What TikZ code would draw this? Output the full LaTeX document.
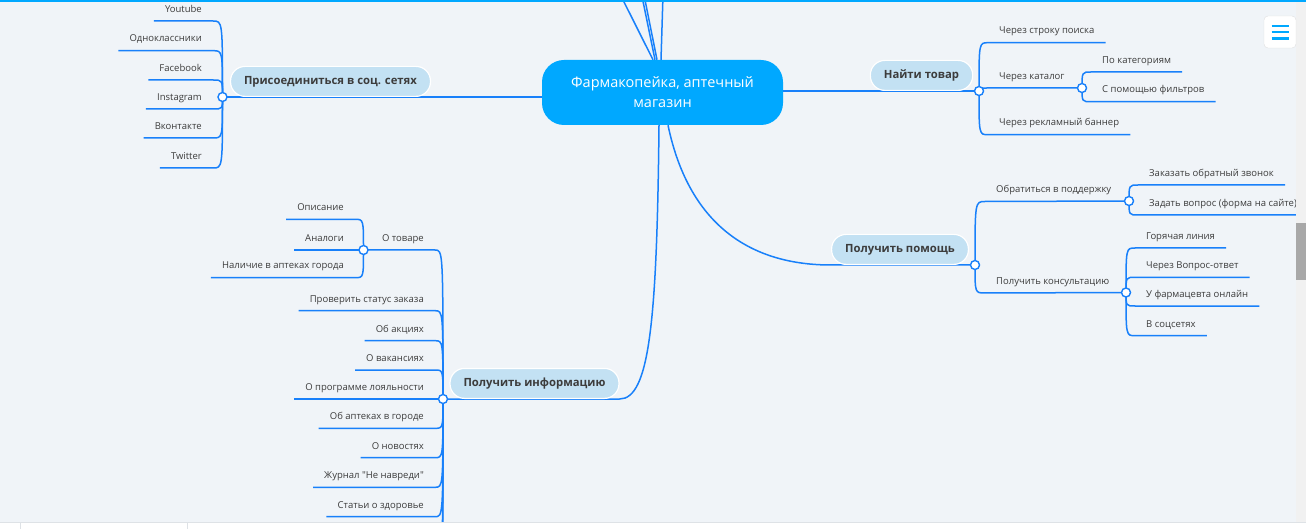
\documentclass[tikz,border=0pt]{standalone}
\usepackage{fontspec}
\setmainfont{Open Sans}[Ligatures=TeXOff]
\usetikzlibrary{backgrounds}
\definecolor{paper}{RGB}{240,244,248}
\definecolor{linkblue}{RGB}{24,128,250}
\definecolor{hubblue}{RGB}{0,168,255}
\definecolor{pillblue}{RGB}{195,225,243}
\definecolor{inkgray}{RGB}{60,60,60}
\definecolor{trackgray}{RGB}{241,241,241}
\definecolor{thumbgray}{RGB}{168,168,168}
\definecolor{bargray}{RGB}{222,226,230}
\tikzset{
    % Connectors
    branch/.style={draw=linkblue,line width=1.5pt},
    elbow/.style={to path={.. controls (\tikztostart |- \tikztotarget) and (\tikztostart |- \tikztotarget) .. (\tikztotarget)}},
    %
    % Nodes
    hub box/.style={rectangle,rounded corners=22pt,fill=hubblue,text=white,minimum width=241pt,minimum height=65pt,align=center,font=\fontsize{14.5}{20}\selectfont},
    topic/.style={rectangle,rounded corners=14.5pt,fill=pillblue,draw=white,line width=1.2pt,minimum height=30pt,inner xsep=13.5pt,anchor=south,text=inkgray,font=\bfseries\fontsize{11.3}{14}\selectfont},
    knot/.style={circle,draw=linkblue,fill=white,line width=1.4pt,minimum size=9pt,inner sep=0pt},
    leaf/.style={inner xsep=11pt,inner ysep=6pt,text height=7.5pt,text depth=2.5pt,text=inkgray,font=\fontsize{9.5}{12}\selectfont},
    lleaf/.style={leaf,anchor=south east},
    rleaf/.style={leaf,anchor=south west},
    %
    % Window parts
    menu box/.style={rectangle,rounded corners=4pt,fill=white,draw=black!12,minimum size=32pt},
    menu line/.style={draw=hubblue,line width=2.4pt}
}

\begin{document}
\begin{tikzpicture}[x=1pt,y=-1pt]
    \useasboundingbox (0,0) rectangle (1306,529);
    \begin{scope}[on background layer]
        \fill[paper] (0,0) rectangle (1306,529);
    \end{scope}

    \node[hub box] (hub) at (662.5,92.5) {Фармакопейка, аптечный\\магазин};

    \node[topic] (soc) at (330.5,97) {Присоединиться в соц. сетях};
    \node[topic] (find) at (921.5,91) {Найти товар};
    \node[topic] (help) at (900,265) {Получить помощь};
    \node[topic] (info) at (534.5,399) {Получить информацию};

    \node[knot] (socdot) at (222.5,97) {};
    \node[knot] (finddot) at (979,91) {};
    \node[knot] (catdot) at (1082,88) {};
    \node[knot] (helpdot) at (975,265) {};
    \node[knot] (supdot) at (1129,201) {};
    \node[knot] (consdot) at (1126,292.5) {};
    \node[knot] (infodot) at (443,399) {};
    \node[knot] (goodsdot) at (363.5,250) {};

    \node[lleaf] (yt) at (213,21) {Youtube};
    \node[lleaf] (ok) at (213,50.7) {Одноклассники};
    \node[lleaf] (fb) at (213,80) {Facebook};
    \node[lleaf] (ig) at (213,109) {Instagram};
    \node[lleaf] (vk) at (213,138) {Вконтакте};
    \node[lleaf] (tw) at (213,168) {Twitter};

    \node[rleaf] (search) at (988,42.7) {Через строку поиска};
    \node[rleaf] (catalog) at (988,88) {Через каталог};
    \node[rleaf] (banner) at (988,134.7) {Через рекламный баннер};
    \node[rleaf] (cats) at (1091,72) {По категориям};
    \node[rleaf] (filters) at (1091,101.7) {С помощью фильтров};

    \node[rleaf] (support) at (985,201.5) {Обратиться в поддержку};
    \node[rleaf] (consult) at (985,293) {Получить консультацию};
    \node[rleaf] (callback) at (1138,185) {Заказать обратный звонок};
    \node[rleaf] (askform) at (1138,215) {Задать вопрос (форма на сайте)};
    \node[rleaf] (hotline) at (1135,248) {Горячая линия};
    \node[rleaf] (qa) at (1135,277.3) {Через Вопрос-ответ};
    \node[rleaf] (online) at (1135,306) {У фармацевта онлайн};
    \node[rleaf] (socnet) at (1135,335.7) {В соцсетях};

    \node[lleaf] (goods) at (435,250) {О товаре};
    \node[lleaf] (status) at (435,310.7) {Проверить статус заказа};
    \node[lleaf] (promo) at (435,340.7) {Об акциях};
    \node[lleaf] (jobs) at (435,370) {О вакансиях};
    \node[lleaf] (loyal) at (435,399) {О программе лояльности};
    \node[lleaf] (shops) at (435,428.3) {Об аптеках в городе};
    \node[lleaf] (news) at (435,457.7) {О новостях};
    \node[lleaf] (journal) at (435,487.3) {Журнал "Не навреди"};
    \node[lleaf] (health) at (435,516.7) {Статьи о здоровье};
    \node[lleaf] (about) at (355,219.3) {Описание};
    \node[lleaf] (analogs) at (355,250) {Аналоги};
    \node[lleaf] (stock) at (355,277.7) {Наличие в аптеках города};

    % branches leaving the visible window
    \coordinate (up1) at (620.5,-5);
    \coordinate (up2) at (641.7,-5);
    \coordinate (up3) at (644,-5);
    \coordinate (up4) at (663,-5);
    \coordinate (more1) at (433,560);
    \coordinate (more2) at (431,600);

    \begin{scope}[on background layer]
        \draw[branch] ([xshift=-9.5pt]hub.north) -- (up1);
        \draw[branch] ([xshift=-7.5pt]hub.north) -- (up2);
        \draw[branch] ([xshift=-5.5pt]hub.north) -- (up3);
        \draw[branch] ([xshift=-1.5pt]hub.north) -- (up4);
        \draw[branch] (hub.west |- socdot.center) -- (socdot.center);
        \draw[branch] (hub.east |- finddot.center) -- (finddot.center);
        \draw[branch] ([xshift=5.5pt]hub.south) .. controls +(22,105) and +(-75,0) .. (help.west |- helpdot.center) -- (helpdot.center);
        \draw[branch] ([xshift=-3.5pt]hub.south) .. controls +(-2,195) and +(30,0) .. (info.east |- infodot.center) -- (infodot.center);

        \draw[branch] (socdot.center) to[elbow] (yt.south east) -- (yt.south west);
        \draw[branch] (socdot.center) to[elbow] (ok.south east) -- (ok.south west);
        \draw[branch] (socdot.center) to[elbow] (fb.south east) -- (fb.south west);
        \draw[branch] (socdot.center) to[elbow] (ig.south east) -- (ig.south west);
        \draw[branch] (socdot.center) to[elbow] (vk.south east) -- (vk.south west);
        \draw[branch] (socdot.center) to[elbow] (tw.south east) -- (tw.south west);

        \draw[branch] (finddot.center) to[elbow] (search.south west) -- (search.south east);
        \draw[branch] (finddot.center) to[elbow] (catalog.south west) -- (catdot.center);
        \draw[branch] (finddot.center) to[elbow] (banner.south west) -- (banner.south east);
        \draw[branch] (catdot.center) to[elbow] (cats.south west) -- (cats.south east);
        \draw[branch] (catdot.center) to[elbow] (filters.south west) -- (filters.south east);

        \draw[branch] (helpdot.center) to[elbow] (support.south west) -- (supdot.center);
        \draw[branch] (helpdot.center) to[elbow] (consult.south west) -- (consdot.center);
        \draw[branch] (supdot.center) to[elbow] (callback.south west) -- (callback.south east);
        \draw[branch] (supdot.center) to[elbow] (askform.south west) -- (askform.south east);
        \draw[branch] (consdot.center) to[elbow] (hotline.south west) -- (hotline.south east);
        \draw[branch] (consdot.center) to[elbow] (qa.south west) -- (qa.south east);
        \draw[branch] (consdot.center) to[elbow] (online.south west) -- (online.south east);
        \draw[branch] (consdot.center) to[elbow] (socnet.south west) -- (socnet.south east);

        \draw[branch] (infodot.center) to[elbow] (goods.south east) -- (goodsdot.center);
        \draw[branch] (infodot.center) to[elbow] (status.south east) -- (status.south west);
        \draw[branch] (infodot.center) to[elbow] (promo.south east) -- (promo.south west);
        \draw[branch] (infodot.center) to[elbow] (jobs.south east) -- (jobs.south west);
        \draw[branch] (infodot.center) to[elbow] (loyal.south east) -- (loyal.south west);
        \draw[branch] (infodot.center) to[elbow] (shops.south east) -- (shops.south west);
        \draw[branch] (infodot.center) to[elbow] (news.south east) -- (news.south west);
        \draw[branch] (infodot.center) to[elbow] (journal.south east) -- (journal.south west);
        \draw[branch] (infodot.center) to[elbow] (health.south east) -- (health.south west);
        \draw[branch] (infodot.center) to[elbow] (more1);
        \draw[branch] (infodot.center) to[elbow] (more2);
        \draw[branch] (goodsdot.center) to[elbow] (about.south east) -- (about.south west);
        \draw[branch] (goodsdot.center) to[elbow] (analogs.south east) -- (analogs.south west);
        \draw[branch] (goodsdot.center) to[elbow] (stock.south east) -- (stock.south west);
    \end{scope}

    % window frame
    \fill[trackgray] (1296,2) rectangle (1306,522);
    \fill[thumbgray] (1296,223) rectangle (1306,280);
    \fill[white] (0,522.3) rectangle (1306,529);
    \draw[bargray] (0,522.3) -- (1306,522.3) (20,522.3) -- (20,529) (186.7,522.3) -- (186.7,529);
    \fill[hubblue] (0,0) rectangle (1306,1.6);
    \node[menu box] (menu) at (1280,32) {};
    \draw[menu line] (1271.5,25.8) -- (1288.5,25.8) (1271.5,32.2) -- (1288.5,32.2) (1271.5,38.6) -- (1288.5,38.6);
\end{tikzpicture}
\end{document}
